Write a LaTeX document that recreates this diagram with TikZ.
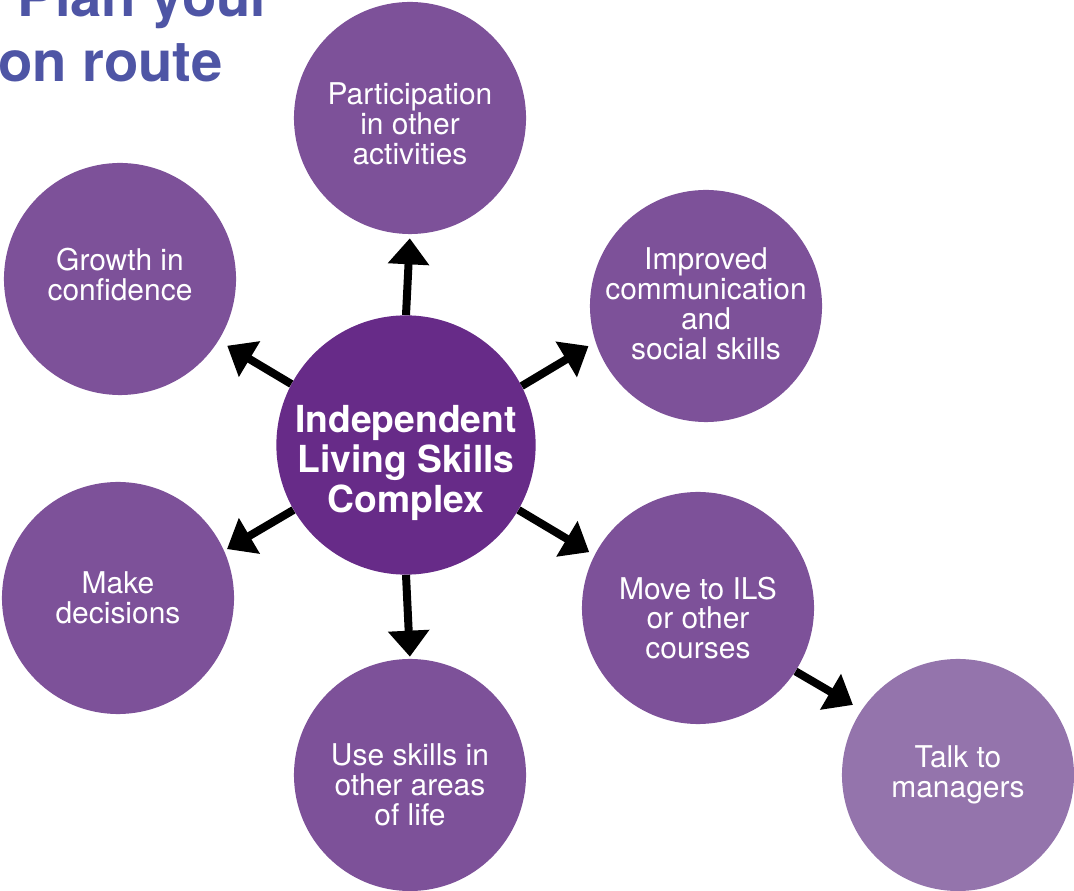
\documentclass[tikz,border=0pt]{standalone}
\usepackage{fontspec}
\setmainfont{TeX Gyre Heros}
\usepackage{xcolor}
\usepackage{tikz}
\usetikzlibrary{arrows.meta}
\definecolor{hubpurple}{HTML}{672B88}
\definecolor{leafpurple}{HTML}{7D5199}
\definecolor{lightpurple}{HTML}{9474AC}
\definecolor{titleblue}{HTML}{4E55A5}
\tikzset{
	hub/.style={ % the middle circle
			circle, fill=hubpurple, minimum size=6.48cm, inner sep=0pt
		},
	leaf/.style={ % every outer circle
			circle, fill=leafpurple, minimum size=5.8cm, inner sep=0pt
		},
	hubtext/.style={text=white, align=center, inner sep=0pt,
			font=\fontsize{26.5}{28.5}\selectfont\bfseries},
	leaftext/.style={text=white, align=center, inner sep=0pt,
			font=\fontsize{21.3}{21.3}\selectfont},
	pointer/.style={ % thick black arrows
			draw, line width=0.2cm,
			-{Triangle[length=0.65cm, width=1cm]}
		},
	heading/.style={text=titleblue, inner sep=0pt,
			font=\fontsize{40}{46}\selectfont\bfseries}
}

\begin{document}
\begin{tikzpicture}[x=0.025cm, y=-0.025cm]
	\clip (0,0) rectangle (1074,891);
	\node[heading, anchor=base east] (plan) at (273,17) {- Plan your};
	\node[heading, anchor=base east] (route) at (223,82) {on route};

	% circles
	\node[hub] (ils) at (406,445) {};
	\node[leaf] (part) at (410,118) {};
	\node[leaf] (grow) at (120,279) {};
	\node[leaf] (impr) at (706,306) {};
	\node[leaf] (make) at (118,598) {};
	\node[leaf] (use) at (410,775) {};
	\node[leaf] (move) at (698,608) {};
	\node[leaf, fill=lightpurple] (talk) at (958,775) {};

	% texts
	\node[hubtext] (ilstext) at ([yshift=-0.45cm]ils) {Independent\\Living Skills\\Complex};
	\node[leaftext] (parttext) at ([yshift=-0.15cm]part) {Participation\\in other\\activities};
	\node[leaftext] (growtext) at ([yshift=0.12cm]grow) {Growth in\\confidence};
	\node[leaftext] (imprtext) at ([yshift=0.05cm]impr) {Improved\\communication\\and\\social skills};
	\node[leaftext] (maketext) at (make) {Make\\decisions};
	\node[leaftext] (usetext) at ([yshift=-0.25cm]use) {Use skills in\\other areas\\of life};
	\node[leaftext] (movetext) at ([yshift=-0.25cm]move) {Move to ILS\\or other\\courses};
	\node[leaftext] (talktext) at (talk) {Talk to\\managers};

	% arrows
	\draw[pointer, shorten >=0.1cm] (ils.north) -- (part.south);
	\draw[pointer, shorten >=0.25cm] (ils.152) -- (grow.328);
	\draw[pointer, shorten >=0.2cm] (ils.27) -- (impr.198);
	\draw[pointer, shorten >=0.08cm] (ils.210) -- (make.24);
	\draw[pointer, shorten >=0.15cm] (ils.330) -- (move.153);
	\draw[pointer, shorten >=0.05cm] (ils.south) -- (use.north);
	\draw[pointer, shorten >=0.25cm] (move.327) -- (talk.146);
\end{tikzpicture}
\end{document}
